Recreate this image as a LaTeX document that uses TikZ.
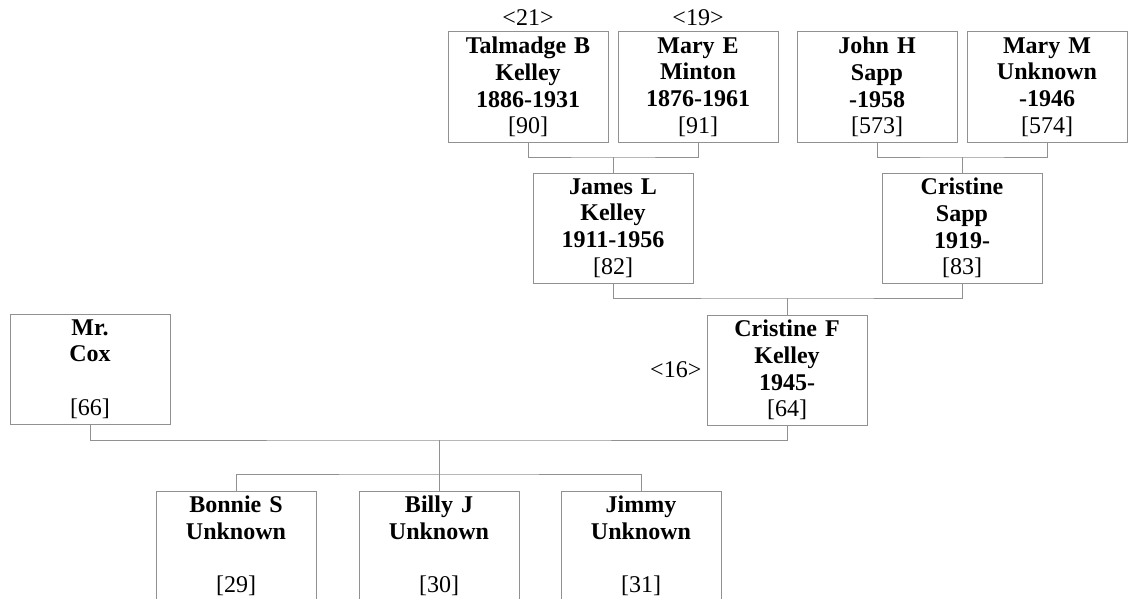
\documentclass[tikz,border=0pt]{standalone}
\usepackage{fontspec}
\setmainfont{Liberation Serif}
\usetikzlibrary{positioning}
\definecolor{linegray}{RGB}{145,145,145}

\begin{document}
\begin{tikzpicture}[
	x=1pt, y=-1pt,
	node distance=6pt,
	person/.style = {draw=linegray, line width=1pt, minimum width=160pt, minimum height=110pt,
		inner sep=0pt, text width=156pt, align=center, font=\fontsize{24}{26.8}\selectfont},
	tag/.style = {inner sep=0pt, font=\fontsize{24}{26.8}\selectfont},
	link/.style = {draw=linegray, line width=1pt}
	]
	\useasboundingbox (0,0) rectangle (1129,599);
%
	\node[person] (tal)   at (528,87)  {\textbf{Talmadge B}\\ \textbf{Kelley}\\ \textbf{1886-1931}\\ {[90]}};
	\node[person] (maryE) at (698,87)  {\textbf{Mary E}\\ \textbf{Minton}\\ \textbf{1876-1961}\\ {[91]}};
	\node[person] (john)  at (877,87)  {\textbf{John H}\\ \textbf{Sapp}\\ \textbf{-1958}\\ {[573]}};
	\node[person] (maryM) at (1047,87) {\textbf{Mary M}\\ \textbf{Unknown}\\ \textbf{-1946}\\ {[574]}};
%
	\node[person] (james) at (613,228) {\textbf{James L}\\ \textbf{Kelley}\\ \textbf{1911-1956}\\ {[82]}};
	\node[person] (crisS) at (962,228) {\textbf{Cristine}\\ \textbf{Sapp}\\ \textbf{1919-}\\ {[83]}};
%
	\node[person] (cox)   at (90,369)  {\textbf{Mr.}\\ \textbf{Cox}\\ \mbox{}\\ {[66]}};
	\node[person] (crisF) at (787,370) {\textbf{Cristine F}\\ \textbf{Kelley}\\ \textbf{1945-}\\ {[64]}};
%
	\node[person] (bonnie) at (236,546) {\textbf{Bonnie S}\\ \textbf{Unknown}\\ \mbox{}\\ {[29]}};
	\node[person] (billy)  at (439,546) {\textbf{Billy J}\\ \textbf{Unknown}\\ \mbox{}\\ {[30]}};
	\node[person] (jimmy)  at (641,546) {\textbf{Jimmy}\\ \textbf{Unknown}\\ \mbox{}\\ {[31]}};
%
	\node[tag, above=6pt of tal]   (t21) {<21>};
	\node[tag, above=6pt of maryE] (t19) {<19>};
	\node[tag, left=5pt of crisF]  (t16) {<16>};
%
	\coordinate (f1) at (613,157);
	\coordinate (f2) at (962,157);
	\coordinate (f3) at (787,298);
	\coordinate (f4) at (439,440);
	\coordinate (f5) at (439,474);
%
	\draw[link] (tal.south) |- (f1) -| (maryE.south);
	\draw[link] (f1) -- (james.north);
	\draw[link] (john.south) |- (f2) -| (maryM.south);
	\draw[link] (f2) -- (crisS.north);
	\draw[link] (james.south) |- (f3) -| (crisS.south);
	\draw[link] (f3) -- (crisF.north);
	\draw[link] (cox.south) |- (f4) -| (crisF.south);
	\draw[link] (f4) -- (billy.north);
	\draw[link] (bonnie.north) |- (f5) -| (jimmy.north);
\end{tikzpicture}
\end{document}
